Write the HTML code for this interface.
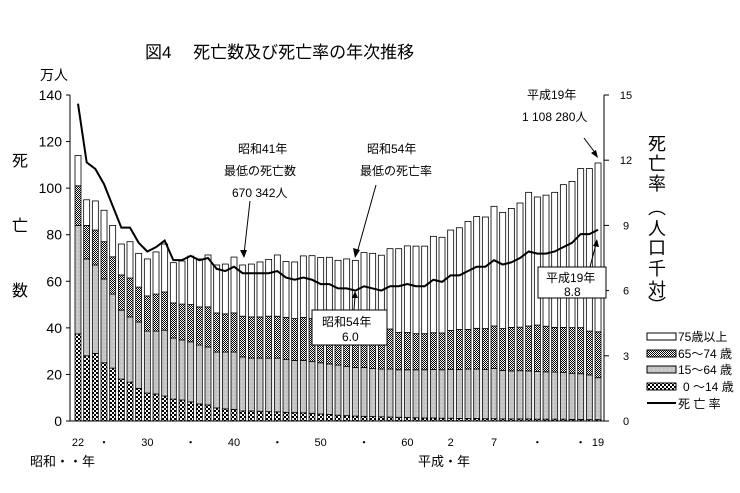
<!DOCTYPE html>
<html><head><meta charset="utf-8"><style>
body{margin:0;background:#fff}
svg{display:block;font-family:"Liberation Sans","Noto Sans CJK JP",sans-serif}
</style></head><body>
<svg id="chart" width="740" height="493" viewBox="0 0 740 493" xmlns="http://www.w3.org/2000/svg">
<defs>
<pattern id="pKid" width="4" height="4" patternUnits="userSpaceOnUse"><rect width="4" height="4" fill="#fff"/><rect width="2" height="2" fill="#000"/><rect x="2" y="2" width="2" height="2" fill="#000"/></pattern>
<pattern id="pOld" width="2" height="2" patternUnits="userSpaceOnUse"><rect width="2" height="2" fill="#fff"/><rect width="1" height="1" fill="#000"/><rect x="1" y="1" width="1" height="1" fill="#000"/></pattern>
<pattern id="pMid" width="4" height="4" patternUnits="userSpaceOnUse"><rect width="4" height="4" fill="#c4c4c4"/><rect x="1" y="1" width="1" height="1" fill="#e8e8e8"/></pattern>
</defs>
<text x="145" y="58" font-size="17">図4　 死亡数及び死亡率の年次推移</text>
<text x="40" y="80" font-size="14">万人</text>
<g font-size="16">
<text x="12" y="166">死</text><text x="12" y="231">亡</text><text x="12" y="296">数</text></g>
<g font-size="18" text-anchor="middle">
<text x="657" y="150">死</text><text x="657" y="170">亡</text><text x="657" y="190">率</text>
<text x="657" y="214">︵</text>
<text x="657" y="235">人</text><text x="657" y="254">口</text><text x="657" y="275">千</text><text x="657" y="296">対</text>
<text x="657" y="312">︶</text></g>
<g id="plot"></g>
<g font-size="12">
<text x="238" y="153">昭和41年</text><text x="224" y="175">最低の死亡数</text><text x="232" y="197">670 342人</text>
<line x1="250" y1="201" x2="244" y2="254" stroke="#000"/><path d="M240,250 L244,258 L247,250Z"/>
<text x="367" y="153">昭和54年</text><text x="360" y="175">最低の死亡率</text>
<line x1="376" y1="185" x2="357" y2="253" stroke="#000"/><path d="M353,248 L355,258 L360,250Z"/>
<text x="527" y="99">平成19年</text><text x="522" y="121">1 108 280人</text>
<line x1="584" y1="138" x2="596" y2="154" stroke="#000"/><path d="M591,153 L598,158 L596,150Z"/>
<rect x="312" y="310" width="75" height="35" fill="#fff" stroke="#000"/>
<text x="322" y="326">昭和54年</text><text x="342" y="341">6.0</text>
<line x1="354" y1="310" x2="355" y2="296" stroke="#000"/><path d="M352,298 L355,291 L358,298Z"/>
<rect x="538" y="267" width="68" height="31" fill="#fff" stroke="#000"/>
<text x="546" y="282">平成19年</text><text x="564" y="296">8.8</text>
<line x1="590" y1="267" x2="596" y2="244" stroke="#000"/><path d="M593,246 L597,239 L599,247Z"/>
</g>
<g font-size="12">
<g><rect x="647" y="333" width="29" height="7" fill="#fff" stroke="#000"/><text x="678" y="341">75歳以上</text></g>
<g><rect x="647" y="350" width="29" height="7" fill="url(#pOld)" stroke="#000"/><text x="678" y="358">65～74 歳</text></g>
<g><rect x="647" y="366" width="29" height="7" fill="url(#pMid)" stroke="#000"/><text x="678" y="374">15～64 歳</text></g>
<g><rect x="647" y="383" width="29" height="7" fill="url(#pKid)" stroke="#000"/><text x="683" y="391">0 ～14 歳</text></g>
<g><line x1="647" y1="403" x2="676" y2="403" stroke="#000" stroke-width="2"/><text x="678" y="408">死 亡 率</text></g>
</g>
<text x="30" y="466" font-size="13">昭和・・年</text>
<text x="418" y="466" font-size="13">平成・年</text>
</svg>
<script>
const kids=[37.4,28,29,25,22.7,18,16.7,14,12,11.6,10.7,9.4,9,8.2,7.3,6.9,5.6,5.2,5,4.3,4.3,4.2,4.0,3.9,3.7,3.6,3.5,3.3,3.0,2.8,2.5,2.3,2.1,2.0,1.9,1.8,1.7,1.6,1.5,1.4,1.3,1.3,1.2,1.2,1.1,1.1,1.1,1.0,1.0,0.9,0.9,0.9,0.9,0.8,0.8,0.8,0.8,0.7,0.7,0.6,0.6];
const mid=[46.6,41.6,38,36,31.8,29.6,28,28.5,26.6,27,28.3,26.2,25.8,25.8,25.3,24.9,24,24.4,24.6,23.2,22.7,22.8,23,23.1,22.8,22.4,22.5,22.2,22,21.7,21.5,21.2,20.9,21,20.6,20.5,20.6,20.4,20.5,20.6,20.7,20.8,20.8,21,21,21.2,21.2,21.2,21.5,20.8,20.6,20.7,20.6,20.5,20.3,20.2,20,19.8,19.6,19.2,18];
const old=[17,14.4,15,16,16,15.1,16.7,15,15.1,15.9,16.4,15.1,15.4,16,16.4,17.2,16.8,16.4,16.8,17.5,17.7,17.7,18,18,18,18,18.5,18.5,18.5,18.5,18.5,18.5,18.5,18,18,17.7,17.2,16,16,15.5,15.5,15.8,15.8,16.7,17.2,17,17.5,17.5,18.3,18,18.7,18.7,19.3,19.9,19.6,19.2,19.4,19.6,19.8,18.8,19.7];
const total=[114,95,94.5,90.5,84,76,77,72,69.6,72.6,76,68,68.7,70.8,69.6,71.3,67,67.4,70.4,67,67.4,68.3,69.4,71.3,68.5,68.3,70.9,71.0,70.2,70.3,69.0,69.6,69.0,72.3,72.0,71.2,74.0,74.0,75.2,75.1,75.1,79.3,78.9,82.0,83.0,85.7,87.8,87.6,92.2,89.6,91.3,93.6,98.2,96.2,97.0,98.2,101.5,102.9,108.4,108.4,110.8];
const rate=[14.6,11.9,11.6,10.9,9.9,8.9,8.9,8.2,7.8,8.0,8.3,7.4,7.4,7.6,7.4,7.5,7.0,6.9,7.1,6.8,6.8,6.8,6.8,6.9,6.6,6.5,6.6,6.5,6.3,6.3,6.1,6.1,6.0,6.2,6.1,6.0,6.2,6.2,6.3,6.2,6.2,6.5,6.4,6.7,6.7,6.9,7.1,7.1,7.4,7.2,7.3,7.5,7.8,7.7,7.7,7.8,8.0,8.2,8.6,8.6,8.8];
const leftTicks=[0,20,40,60,80,100,120,140];
const rightTicks=[0,3,6,9,12,15];
const xLabels=[[0,"22"],[3,"・"],[8,"30"],[13,"・"],[18,"40"],[23,"・"],[28,"50"],[33,"・"],[38,"60"],[43,"2"],[48,"7"],[53,"・"],[58,"・"],[60,"19"]];
const NS="http://www.w3.org/2000/svg";
const g=document.getElementById('plot');
const X=i=>78+i*8.667, Y=v=>421-v*(326/140), YR=r=>421-r*(326/15);
function mk(t,a,p){const e=document.createElementNS(NS,t);for(const k in a)e.setAttribute(k,a[k]);(p||g).appendChild(e);return e;}
for(let i=0;i<total.length;i++){
  const segs=[[0,kids[i],'url(#pKid)'],[kids[i],kids[i]+mid[i],'url(#pMid)'],[kids[i]+mid[i],kids[i]+mid[i]+old[i],'url(#pOld)'],[kids[i]+mid[i]+old[i],total[i],'#fff']];
  segs.forEach((s,j)=>{const r=mk('rect',{x:X(i)-3,y:Y(s[1]),width:6,height:Math.max(0,Y(s[0])-Y(s[1])),fill:s[2],stroke:'#000','stroke-width':0.8});
    
    });
}
const pl=mk('polyline',{points:rate.map((r,i)=>X(i)+','+YR(r)).join(' '),fill:'none',stroke:'#000','stroke-width':2});


const ax=mk('path',{d:'M70,95 V421 H604 M604,95 V421',stroke:'#000',fill:'none'});


leftTicks.forEach(v=>{mk('line',{x1:66,x2:70,y1:Y(v),y2:Y(v),stroke:'#000'});
  const t=mk('text',{x:62,y:Y(v)+5,'text-anchor':'end','font-size':14});t.textContent=v;
  
  });
rightTicks.forEach(v=>{mk('line',{x1:604,x2:609,y1:YR(v),y2:YR(v),stroke:'#000'});
  const t=mk('text',{x:626,y:YR(v)+4,'text-anchor':'middle','font-size':11});t.textContent=v;
  
  });
xLabels.forEach(l=>{const t=mk('text',{x:X(l[0]),y:446,'text-anchor':'middle','font-size':11});t.textContent=l[1];
  
  });
</script>
</body></html>
